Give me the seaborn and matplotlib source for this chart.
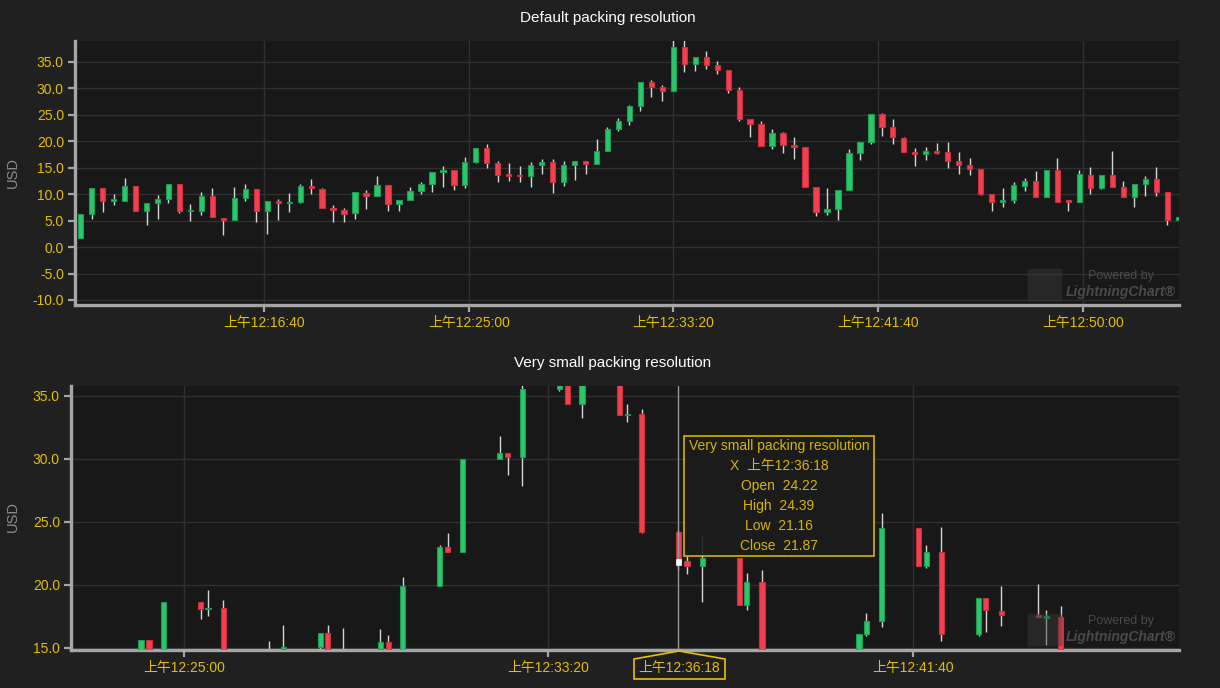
import numpy as np
import matplotlib
matplotlib.use("Agg")
import matplotlib.pyplot as plt
import seaborn as sns
from matplotlib.ticker import FuncFormatter, FixedLocator
from matplotlib.patches import Rectangle, Polygon, FancyBboxPatch

# ---------------- data ----------------
# Top chart: default packing resolution (regular candles, seconds after midnight)
top_start = 552.4
top_step = 26.8
top_open = [1.7, 6.2, 11.1, 8.9, 8.8, 11.6, 6.9, 8.4, 9.1, 11.9,
            6.75, 6.9, 9.7, 5.5, 5.1, 9.3, 11.0, 6.9, 8.75, 8.25,
            8.6, 11.5, 11.0, 7.3, 7.0, 6.4, 10.25, 9.7, 11.8, 8.1,
            8.9, 10.6, 11.9, 14.2, 14.5, 11.75, 16.1, 18.7, 15.9, 13.75,
            13.6, 13.4, 15.6, 16.0, 12.4, 15.6, 16.3, 15.75, 18.1, 22.3,
            23.75, 26.7, 31.25, 30.3, 29.6, 37.8, 34.6, 35.9, 34.4, 33.4,
            29.75, 24.25, 23.2, 19.1, 21.5, 19.25, 18.9, 11.4, 6.6, 7.25,
            10.8, 17.8, 19.9, 25.1, 22.75, 20.7, 17.9, 17.6, 18.1, 17.9,
            16.25, 15.6, 14.75, 10.1, 8.5, 8.9, 11.6, 12.5, 9.5, 14.5,
            8.7, 8.6, 13.7, 11.1, 13.7, 11.3, 9.5, 12.0, 12.9, 10.4, 5.2]
top_high = [6.2, 11.1, 11.1, 10.1, 13.0, 11.6, 8.3, 9.9, 11.9, 11.9,
            8.2, 10.4, 11.1, 5.5, 11.4, 11.9, 11.0, 8.75, 9.1, 10.25,
            11.9, 12.9, 11.1, 8.0, 7.4, 10.4, 10.8, 13.4, 11.8, 8.9,
            11.4, 12.3, 14.25, 15.3, 14.5, 17.0, 18.75, 19.4, 16.25, 15.9,
            15.3, 16.1, 16.6, 16.6, 16.25, 16.3, 16.3, 20.4, 22.8, 24.5,
            26.9, 31.3, 31.6, 30.7, 39.5, 39.5, 35.9, 37.1, 35.2, 33.5,
            30.3, 24.25, 23.75, 22.25, 21.7, 20.9, 18.9, 11.4, 11.2, 10.8,
            18.5, 19.9, 25.1, 25.4, 24.3, 20.9, 18.7, 18.9, 19.6, 19.8,
            17.9, 16.8, 14.75, 10.1, 11.2, 12.3, 13.1, 14.4, 14.5, 16.8,
            8.75, 14.6, 15.1, 13.7, 18.1, 12.5, 12.0, 13.4, 15.1, 10.4, 5.7]
top_low = [1.7, 5.4, 6.6, 7.9, 8.8, 6.9, 4.1, 5.4, 8.3, 6.4,
           4.9, 6.1, 5.6, 2.2, 5.1, 8.75, 4.7, 2.4, 5.1, 6.6,
           8.25, 10.1, 7.3, 4.7, 4.7, 5.4, 7.25, 9.7, 6.9, 6.9,
           8.9, 10.1, 10.4, 11.4, 10.8, 11.2, 15.9, 14.9, 12.3, 12.5,
           12.3, 11.4, 13.8, 10.25, 11.6, 12.7, 13.8, 15.75, 18.1, 21.9,
           23.0, 25.8, 28.4, 27.7, 29.5, 33.1, 33.3, 33.75, 32.8, 29.1,
           23.9, 20.8, 19.1, 18.6, 17.8, 16.7, 11.4, 5.9, 6.1, 5.2,
           10.8, 16.4, 19.4, 21.1, 19.4, 17.9, 15.3, 16.4, 17.6, 15.0,
           13.8, 13.7, 9.9, 6.75, 7.6, 8.4, 10.6, 9.5, 9.5, 8.6,
           6.9, 8.6, 10.1, 10.9, 11.3, 9.5, 7.6, 9.75, 9.75, 4.25, 5.2]
top_close = [6.2, 11.1, 8.8, 9.0, 11.6, 6.9, 8.3, 9.1, 11.9, 6.75,
             7.1, 9.7, 5.6, 5.1, 9.3, 11.0, 6.9, 8.75, 8.25, 8.6,
             11.5, 11.1, 7.3, 7.1, 6.3, 10.4, 9.7, 11.8, 8.1, 8.9,
             10.6, 11.9, 14.25, 14.6, 11.75, 16.1, 18.75, 15.9, 13.7, 13.5,
             13.5, 15.6, 16.0, 12.4, 15.6, 16.3, 15.75, 18.1, 22.3, 23.75,
             26.7, 31.3, 30.3, 29.6, 37.8, 34.6, 35.9, 34.4, 33.4, 29.75,
             24.25, 23.2, 19.1, 21.5, 19.25, 19.0, 11.4, 6.6, 7.25, 10.8,
             17.8, 19.9, 25.1, 22.8, 20.75, 17.9, 17.6, 18.1, 17.9, 16.3,
             15.6, 14.8, 10.1, 8.5, 8.9, 11.7, 12.5, 9.5, 14.5, 8.6,
             8.6, 13.75, 11.1, 13.7, 11.3, 9.5, 12.0, 12.9, 10.4, 5.2, 5.7]

# Bottom chart: very small packing resolution (visible candles)
bot_time = [1441, 1452, 1472, 1523, 1533, 1554, 1616, 1636, 1687, 1697,
            1718, 1769, 1780, 1800, 1851, 1862, 1882, 1933, 1944, 1964,
            2015, 2026, 2046, 2098, 2108, 2128, 2178, 2190, 2211, 2262,
            2272, 2293, 2426, 2436, 2457, 2508, 2518, 2539, 2590, 2600,
            2621, 2672, 2683, 2703]
bot_open = [14.5, 15.65, 14.5, 18.64, 18.1, 18.2, 14.6, 14.9, 15.05, 16.2,
            14.4, 14.9, 15.45, 14.5, 19.91, 23.03, 22.6, 29.99, 30.51, 30.14,
            35.53, 36.3, 34.34, 36.0, 33.52, 33.58, 24.22, 21.89, 21.49, 22.15,
            18.4, 20.2, 14.8, 16.08, 17.14, 24.53, 21.49, 22.63, 16.13, 18.98,
            17.93, 17.59, 17.43, 17.45]
bot_high = [15.66, 15.65, 18.64, 18.64, 19.59, 18.8, 15.53, 16.8, 16.2, 16.8,
            16.56, 16.48, 16.0, 20.67, 23.15, 24.16, 30.0, 31.83, 30.51, 36.2,
            36.8, 36.5, 36.4, 36.2, 34.37, 33.97, 24.39, 22.28, 24.0, 22.15,
            20.99, 21.15, 16.08, 17.74, 25.71, 24.53, 23.2, 24.63, 18.98, 18.98,
            19.88, 20.04, 18.0, 18.3]
bot_low = [14.3, 14.4, 14.4, 17.27, 17.53, 14.0, 13.9, 14.5, 14.95, 14.3,
           14.0, 14.7, 14.6, 14.3, 19.91, 22.6, 22.6, 29.99, 28.69, 27.82,
           35.4, 34.34, 33.28, 33.52, 32.97, 24.1, 21.16, 20.91, 18.64, 18.4,
           18.0, 14.3, 14.6, 15.95, 16.64, 21.49, 21.33, 15.55, 15.95, 16.27,
           16.74, 17.43, 15.24, 14.3]
bot_close = [15.65, 14.6, 18.64, 18.09, 18.2, 14.2, 14.3, 15.1, 16.2, 14.5,
             14.6, 15.45, 14.8, 19.88, 23.05, 22.6, 29.99, 30.51, 30.14, 35.53,
             36.5, 34.34, 36.2, 33.52, 33.56, 24.23, 21.87, 21.49, 22.15, 18.4,
             20.2, 14.5, 16.08, 17.14, 24.53, 21.49, 22.63, 16.13, 18.98, 17.98,
             17.64, 17.43, 17.48, 14.5]

top_xticks = [1000, 1500, 2000, 2500, 3000]
bot_xticks = [1500, 2000, 2500]
top_yticks = [-10, -5, 0, 5, 10, 15, 20, 25, 30, 35]
bot_yticks = [15, 20, 25, 30, 35]

tip_time = 2178
tip_open, tip_high, tip_low, tip_close = 24.22, 24.39, 21.16, 21.87

# ---------------- style ----------------
sns.set_theme(style="dark")
plt.rcParams['font.family'] = ['Liberation Sans', 'Noto Sans CJK SC', 'DejaVu Sans']

FIG_BG = '#202020'
AX_BG = '#181818'
GRID = '#303030'
SPINE = '#a6a6a6'
GOLD = '#e3bf00'
GREEN, GREEN_E = '#2cc66b', '#1d9a52'
RED, RED_E = '#f2404f', '#c4303d'
WICK = '#d6d6d6'

W, H = 1220, 688
fig = plt.figure(figsize=(12.2, 6.88), dpi=100, facecolor=FIG_BG)

def fx(px):
    return px / W

def fy(py):
    return 1 - py / H

ax1 = fig.add_axes([fx(75), fy(305), fx(1179) - fx(75), fy(41) - fy(305)])
ax2 = fig.add_axes([fx(71), fy(650), fx(1179) - fx(71), fy(386) - fy(650)])


def time_fmt(t, pos=None):
    t = int(round(t))
    hh = t // 3600
    mm = (t % 3600) // 60
    ss = t % 60
    ap = '上午' if hh < 12 else '下午'
    h12 = hh % 12 or 12
    return f"{ap}{h12}:{mm:02d}:{ss:02d}"


def draw_candles(ax, t, o, h, l, c, width, minh):
    t = np.asarray(t, float)
    o = np.asarray(o, float)
    h = np.asarray(h, float)
    l = np.asarray(l, float)
    c = np.asarray(c, float)
    up = c >= o
    lo = np.minimum(o, c)
    hi = np.maximum(o, c)
    mid = (lo + hi) / 2
    small = (hi - lo) < minh
    lo = np.where(small, mid - minh / 2, lo)
    height = np.where(small, minh, hi - lo)
    ax.vlines(t, l, h, color=WICK, lw=1.0, zorder=2)
    ax.bar(t[up], height[up], width=width, bottom=lo[up], color=GREEN,
           edgecolor=GREEN_E, linewidth=0.8, zorder=3)
    ax.bar(t[~up], height[~up], width=width, bottom=lo[~up], color=RED,
           edgecolor=RED_E, linewidth=0.8, zorder=3)


def style_axis(ax, xlim, ylim, xticks, yticks):
    ax.set_facecolor(AX_BG)
    ax.set_xlim(*xlim)
    ax.set_ylim(*ylim)
    ax.xaxis.set_major_locator(FixedLocator(xticks))
    ax.yaxis.set_major_locator(FixedLocator(yticks))
    ax.xaxis.set_major_formatter(FuncFormatter(time_fmt))
    ax.yaxis.set_major_formatter(FuncFormatter(lambda v, p: f"{v:.1f}"))
    ax.grid(True, color=GRID, lw=1.0, zorder=0)
    ax.set_axisbelow(True)
    for s in ['top', 'right']:
        ax.spines[s].set_visible(False)
    for s in ['left', 'bottom']:
        ax.spines[s].set_visible(True)
        ax.spines[s].set_color(SPINE)
        ax.spines[s].set_linewidth(2.4)
    ax.tick_params(axis='both', which='major', colors=SPINE, length=5, width=1.6,
                   labelcolor=GOLD, labelsize=10, pad=3, direction='out')
    ax.tick_params(axis='x', bottom=True)
    ax.tick_params(axis='y', left=True)
    ax.set_xlabel('')
    ax.set_ylabel('')


top_time = top_start + top_step * np.arange(len(top_open))

draw_candles(ax1, top_time, top_open, top_high, top_low, top_close, 13.0, 0.35)
style_axis(ax1, (538.5, 3234.4), (-10.95, 38.97), top_xticks, top_yticks)

draw_candles(ax2, bot_time, bot_open, bot_high, bot_low, bot_close, 7.0, 0.12)
style_axis(ax2, (1345, 2865), (14.84, 35.79), bot_xticks, bot_yticks)

# crosshair + highlighted close marker
ax2.axvline(tip_time, color='#9a9a9a', lw=1.0, zorder=4)
ax2.bar([tip_time], [0.45], width=7.0, bottom=tip_close - 0.25, color='white',
        edgecolor='white', lw=0.5, zorder=5)

# titles and axis labels
fig.text(fx(608), fy(18), 'Default packing resolution', color='white', fontsize=11,
         ha='center', va='center')
fig.text(fx(613), fy(363), 'Very small packing resolution', color='white', fontsize=11,
         ha='center', va='center')
fig.text(fx(13), fy(172), 'USD', color='#8c8c8c', fontsize=10.5, rotation=90,
         ha='center', va='center')
fig.text(fx(13), fy(517), 'USD', color='#8c8c8c', fontsize=10.5, rotation=90,
         ha='center', va='center')

# watermarks
for base in (0, 345):
    fig.patches.append(FancyBboxPatch((fx(1030), fy(300 + base)), fx(30), fy(270) - fy(300),
                                      boxstyle='round,pad=0.002', transform=fig.transFigure,
                                      facecolor='#3a3a3a', alpha=0.45, edgecolor='none', zorder=5))
    fig.text(fx(1121), fy(276 + base), 'Powered by', color='#4a4a4a', fontsize=9,
             ha='center', va='center', zorder=6)
    fig.text(fx(1121), fy(292 + base), 'LightningChart®', color='#4a4a4a', fontsize=10,
             ha='center', va='center', style='italic', fontweight='bold', zorder=6)

# tooltip box
fig.patches.append(Rectangle((fx(684), fy(556)), fx(874) - fx(684), fy(436) - fy(556),
                             transform=fig.transFigure, facecolor='#1c1c1c', alpha=0.92,
                             edgecolor='#e8c000', lw=1.2, zorder=8))
tip_lines = ['Very small packing resolution',
             f'X  {time_fmt(tip_time)}',
             f'Open  {tip_open:.2f}',
             f'High  {tip_high:.2f}',
             f'Low  {tip_low:.2f}',
             f'Close  {tip_close:.2f}']
for i, line in enumerate(tip_lines):
    fig.text(fx(779), fy(446 + 20 * i), line, color='#d9b400', fontsize=10,
             ha='center', va='center', zorder=9)

# highlighted x label under crosshair
poly = Polygon([(fx(634), fy(679)), (fx(634), fy(659)), (fx(679), fy(651)),
                (fx(725), fy(659)), (fx(725), fy(679))], closed=True,
               transform=fig.transFigure, facecolor='#1e1e1e', edgecolor='#e8c000',
               lw=1.2, zorder=8)
fig.patches.append(poly)
fig.text(fx(679.5), fy(668), time_fmt(tip_time), color=GOLD, fontsize=10,
         ha='center', va='center', zorder=9)

fig.savefig('out.png', dpi=100, facecolor=FIG_BG)
